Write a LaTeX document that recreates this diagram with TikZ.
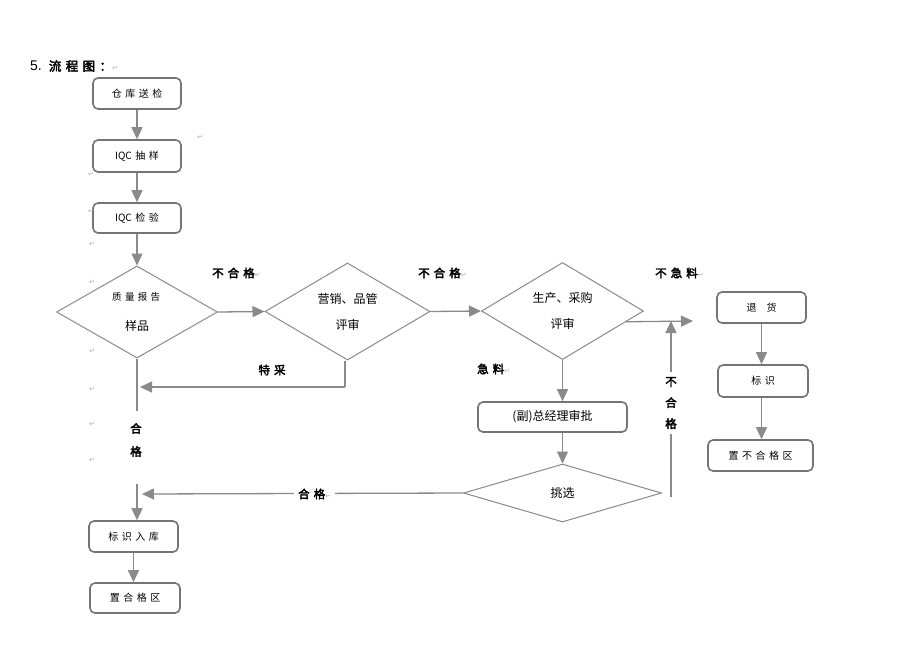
\documentclass[tikz,border=0pt]{standalone}
\usepackage{fontspec}
\setmainfont{Liberation Sans}
\newfontfamily\cjk{Noto Sans CJK SC}
\newfontfamily\cjkb[FakeBold=3]{Noto Sans CJK SC}
\newfontfamily\dvs{DejaVu Sans}
\usetikzlibrary{arrows.meta,shapes.geometric,calc}
\definecolor{lnc}{HTML}{8A8A8A}
\definecolor{bdc}{HTML}{747474}
\definecolor{pmc}{HTML}{B0B0B0}
\newcommand{\kx}{\hspace{0.35em}}
\newcommand{\pmk}{{\dvs\color{pmc}\fontsize{7}{8}\selectfont ↵}}
\tikzset{
  box/.style={draw=bdc, line width=1.6pt, rounded corners=5pt, fill=white, inner sep=0pt, font=\cjk\fontsize{10}{12}\selectfont},
  dia/.style={diamond, draw=lnc, line width=1pt, inner sep=0pt, align=center, font=\cjk\fontsize{12}{26}\selectfont},
  arr/.style={draw=lnc, line width=1.3pt, -{Triangle[length=12pt,width=11pt]}, color=lnc},
  ln/.style={draw=lnc, line width=1.3pt},
  lab/.style={font=\cjkb\fontsize{11.5}{13}\selectfont, inner sep=1pt},
  pm/.style={inner sep=0pt, font=\dvs\color{pmc}\fontsize{7}{8}\selectfont}
}
\begin{document}
\begin{tikzpicture}[x=1pt,y=-1pt]
\useasboundingbox[fill=white] (0,0) rectangle (920,651);
% title
\node[anchor=west, inner sep=0pt] (title) at (30,66) {\fontsize{14}{16}\selectfont 5.\hspace{0.5em}{\cjkb\fontsize{12.5}{14}\selectfont 流\kx 程\kx 图\kx ：}\pmk};
% boxes
\node[box, minimum width=88pt, minimum height=31pt] (b1) at (137,93.5) {仓\kx 库\kx 送\kx 检};
\node[box, minimum width=88pt, minimum height=32pt] (b2) at (137,156) {IQC\kx 抽\kx 样};
\node[box, minimum width=88pt, minimum height=30pt] (b3) at (137,218) {IQC\kx 检\kx 验};
\node[dia, minimum width=161pt, minimum height=92pt] (d1) at (137,312) {{\fontsize{9.5}{11}\selectfont 质\kx 量\kx 报\kx 告\,}\\[4pt]样品};
\node[dia, minimum width=165pt, minimum height=93pt] (d2) at (347.5,311.5) {营销、品管\\评审};
\node[dia, minimum width=162pt, minimum height=92pt] (d3) at (562.5,311) {生产、采购\\评审};
\node[box, minimum width=149pt, minimum height=30pt, font=\cjk\fontsize{12}{14}\selectfont] (b4) at (552.5,417) {(副)总经理审批};
\node[dia, minimum width=198pt, minimum height=58pt] (d4) at (562.5,493) {挑选};
\node[box, minimum width=89pt, minimum height=31pt] (b5) at (133.5,536.5) {标\kx 识\kx 入\kx 库};
\node[box, minimum width=90pt, minimum height=30pt] (b6) at (135,598) {置\kx 合\kx 格\kx 区};
\node[box, minimum width=89pt, minimum height=31pt] (r1) at (761.5,307.5) {退\hspace{1em}货};
\node[box, minimum width=90pt, minimum height=32pt] (r2) at (763,381) {标\kx 识};
\node[box, minimum width=105pt, minimum height=31pt] (r3) at (760.5,455.5) {置\kx 不\kx 合\kx 格\kx 区};
% helper coordinates
\coordinate (j) at (693,321);
\coordinate (ub) at (671,497);
\coordinate (ut) at (671,321);
\coordinate (tc) at (345,387);
\coordinate (tl) at (140,387);
\coordinate (m1) at (137,411);
\coordinate (m2) at (137,484);
\coordinate (hl) at (142,494);
% connectors
\draw[arr] (b1) -- (b2);
\draw[arr] (b2) -- (b3);
\draw[arr] (b3) -- (d1);
\draw[arr] (d1.east) -- (d2.west);
\draw[arr] (d2.east) -- (d3.west);
\draw[arr] ($(d3.east)!0.22!(d3.south)$) -- (j);
\draw[arr] (ub) -- (ut);
\draw[ln] (d2.south -| tc) -- (tc);
\draw[arr] (tc) -- (tl);
\draw[ln] (d1.south) -- (m1);
\draw[arr] (m2) -- (m2 |- b5.north);
\draw[arr] (d3.south) -- (d3.south |- b4.north);
\draw[arr] (b4.south -| d3.south) -- (d4.north);
\draw[arr] (d4.west) -- (hl);
\draw[arr] (b5.south) -- (b5.south |- b6.north);
\draw[arr] (r1.south) -- (r1.south |- r2.north);
\draw[arr] (r1.south |- r2.south) -- (r1.south |- r3.north);
% labels
\node[lab, anchor=west] (l1) at (211,273) {不\kx 合\kx 格\pmk};
\node[lab, anchor=west] (l2) at (417,273) {不\kx 合\kx 格\pmk};
\node[lab, anchor=west] (l3) at (654,273) {不\kx 急\kx 料\pmk};
\node[lab, anchor=west] (l4) at (476,369) {急\kx 料\pmk};
\node[lab] (l5) at (272,370) {特\kx 采};
\node[lab, fill=white, inner sep=4pt, anchor=west] (l6) at (294,494) {合\kx 格{\dvs\color{pmc}\fontsize{7}{8}\selectfont ←}};
\node[lab, fill=white, inner ysep=5pt, align=center] (l7) at (671,403) {不\\[8pt]合\\[8pt]格};
\node[lab, align=center] (l8) at (136,440) {合\\[10pt]格};
% paragraph marks
\node[pm] (p1) at (200,137) {↵};
\node[pm] (p2) at (91,174) {↵};
\node[pm] (p3) at (91,211) {↵};
\node[pm] (p4) at (92,244) {↵};
\node[pm] (p5) at (92,282) {↵};
\node[pm] (p6) at (92,351) {↵};
\node[pm] (p7) at (92,389) {↵};
\node[pm] (p8) at (92,424) {↵};
\node[pm] (p9) at (92,460) {↵};
\end{tikzpicture}
\end{document}
